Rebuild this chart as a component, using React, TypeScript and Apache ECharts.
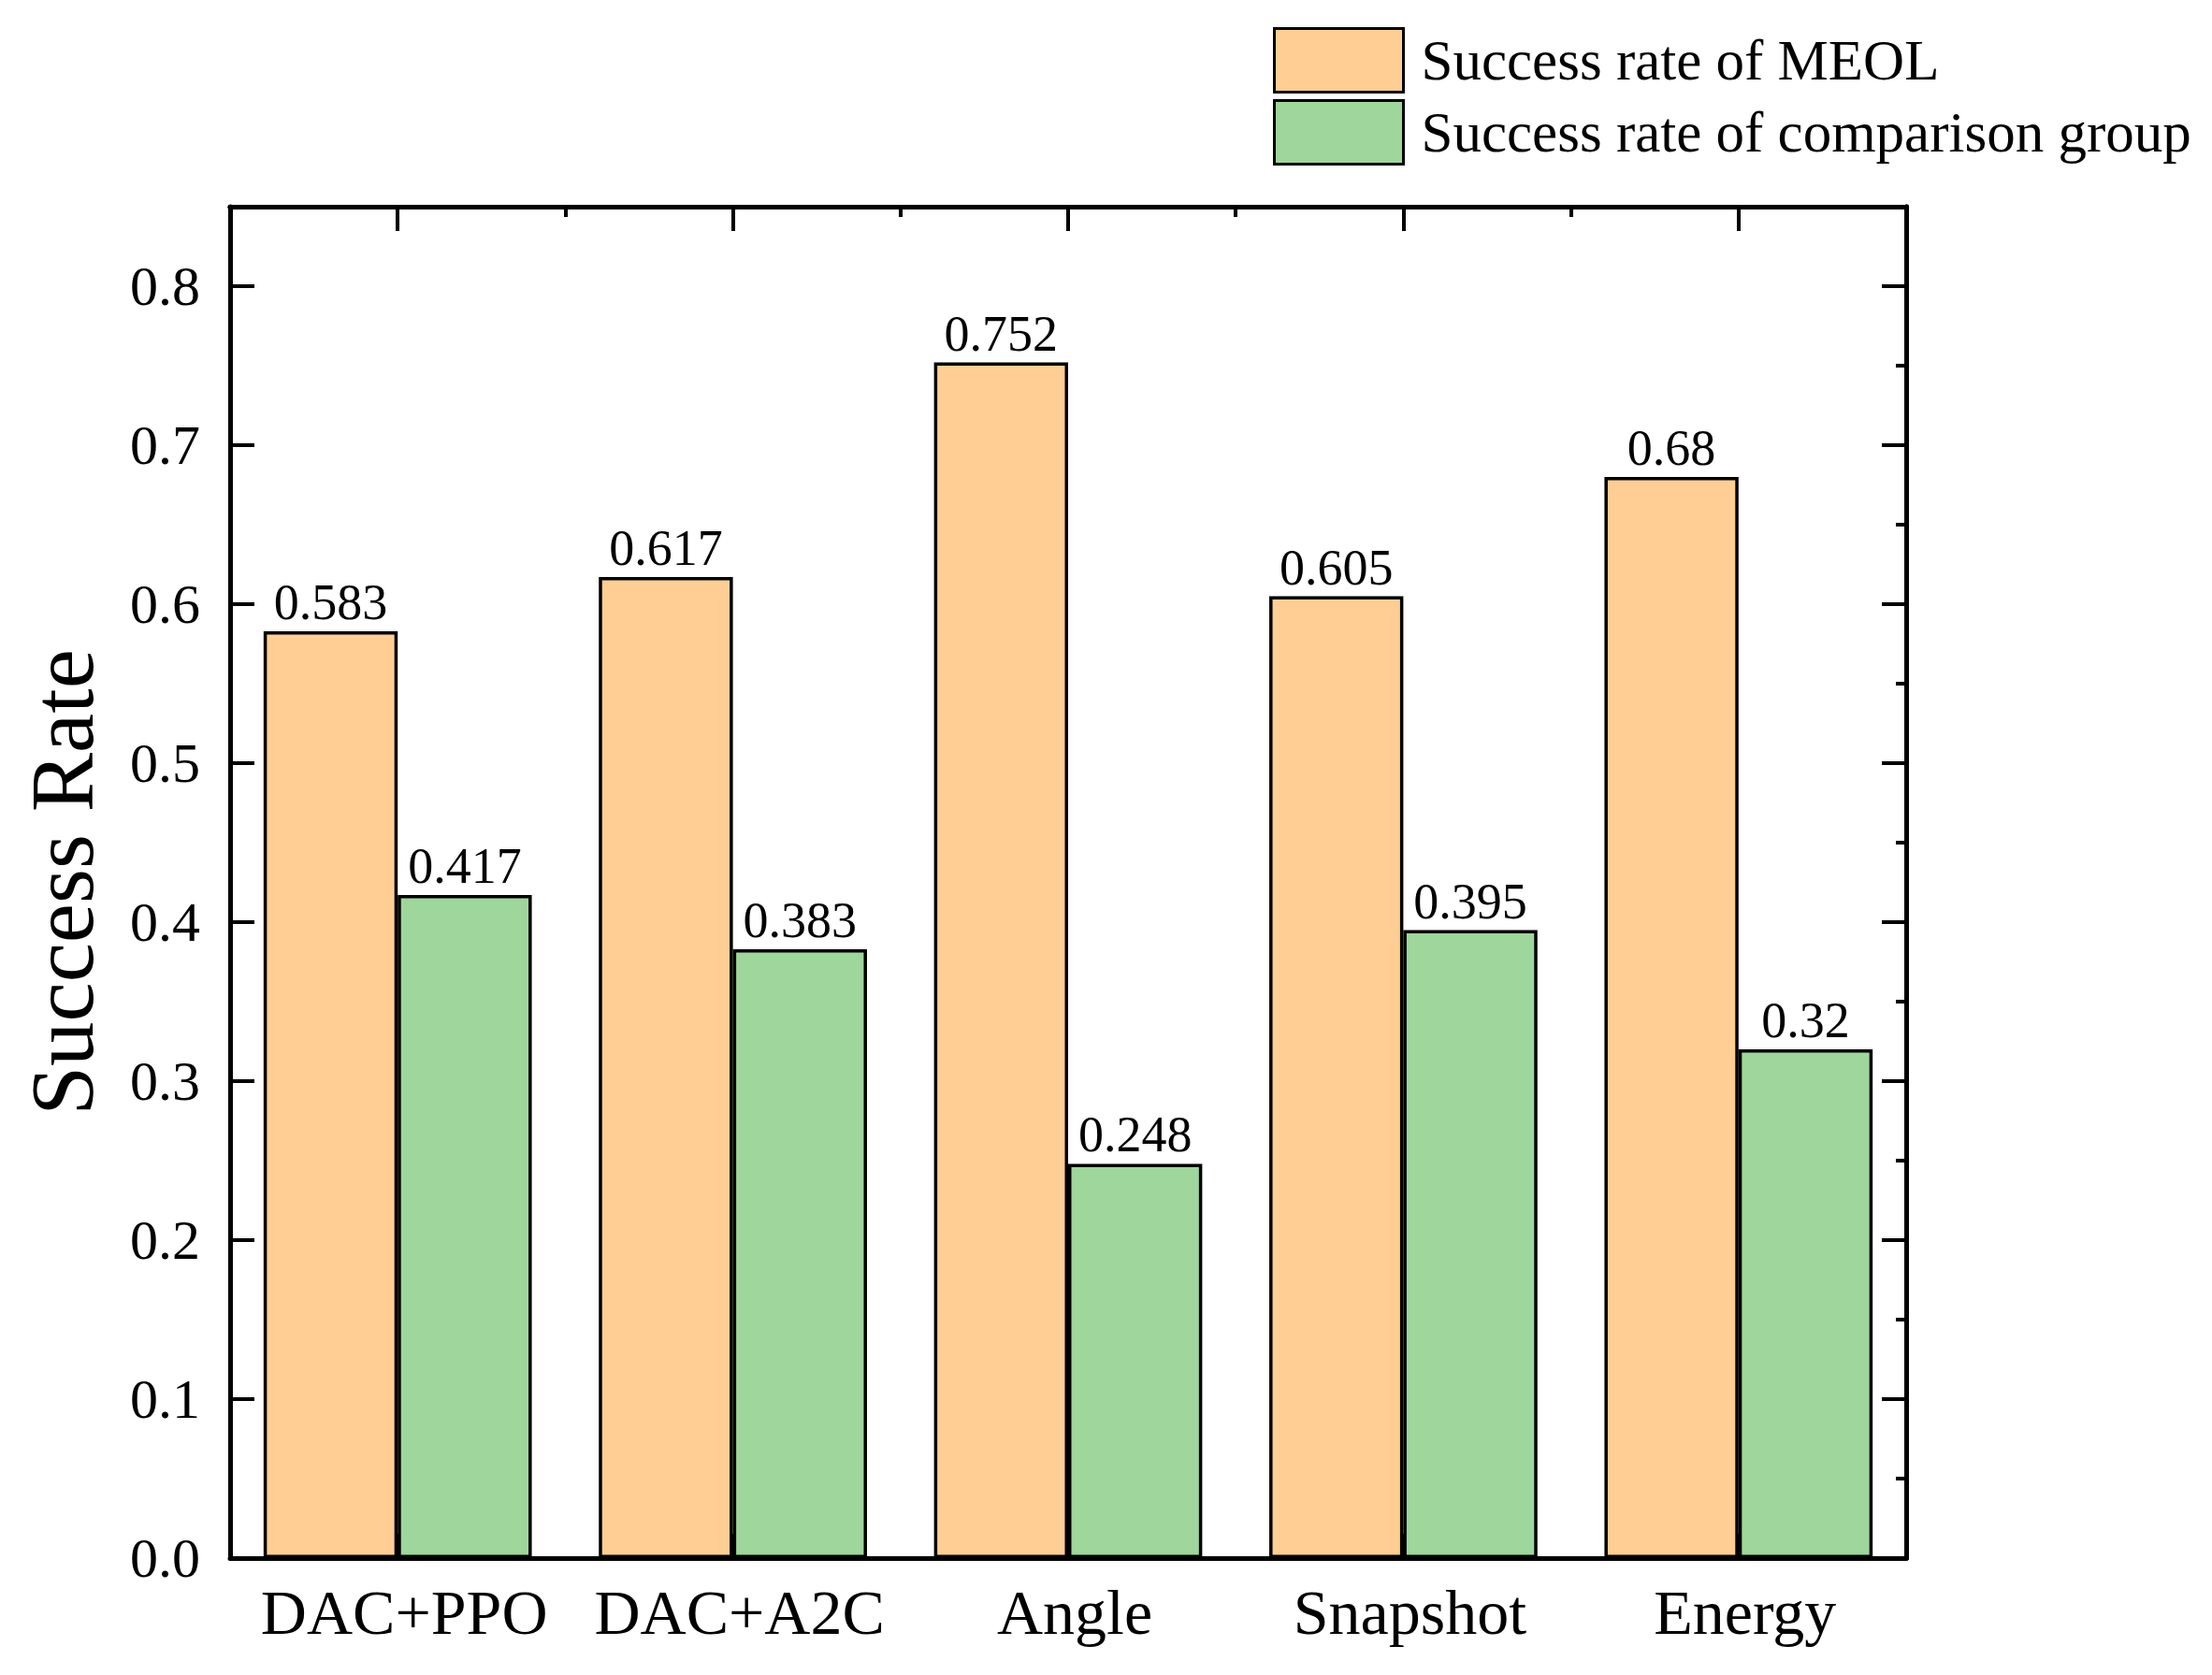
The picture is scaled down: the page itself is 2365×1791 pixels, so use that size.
import React, { useEffect, useRef } from "react";
import * as echarts from "echarts";

const categories = ["DAC+PPO", "DAC+A2C", "Angle", "Snapshot", "Energy"];
const meolValues = [0.583, 0.617, 0.752, 0.605, 0.68];
const comparisonValues = [0.417, 0.383, 0.248, 0.395, 0.32];
const seriesNames = ["Success rate of MEOL", "Success rate of comparison group"];
const yTitle = "Success Rate";

const FONT = "Liberation Serif";
const BLACK = "#000000";

export default function App() {
  const ref = useRef<HTMLDivElement>(null);
  useEffect(() => {
    document.body.style.margin = "0";
    const chart = echarts.init(ref.current!, null, { renderer: "svg" });
    const line = { show: true, onZero: false, lineStyle: { color: BLACK, width: 5 } };
    const hidden = { show: false };
    chart.setOption({
      animation: false,
      backgroundColor: "#ffffff",
      textStyle: { fontFamily: FONT, color: BLACK },
      legend: {
        orient: "vertical",
        left: 1356,
        top: 24,
        itemWidth: 138,
        itemHeight: 68,
        itemGap: 6,
        icon: "rect",
        itemStyle: { borderColor: BLACK, borderWidth: 3 },
        textStyle: { fontFamily: FONT, fontSize: 61, color: BLACK, padding: [0, 0, 0, 14] },
        data: seriesNames,
      },
      grid: { left: 246, top: 221, right: 327, bottom: 125, containLabel: false },
      xAxis: [
        {
          type: "category",
          data: categories,
          position: "bottom",
          axisLine: line,
          axisTick: { show: true, inside: true, alignWithLabel: true, length: 26, lineStyle: { color: BLACK, width: 4 } },
          axisLabel: { fontFamily: FONT, fontSize: 68, color: BLACK, margin: 24, interval: 0, padding: [0, 0, 0, 14] },
          splitLine: hidden,
        },
        {
          type: "category",
          data: categories,
          position: "top",
          axisLine: line,
          axisTick: { show: true, inside: true, alignWithLabel: true, length: 26, lineStyle: { color: BLACK, width: 4 } },
          axisLabel: hidden,
          splitLine: hidden,
        },
        {
          type: "category",
          data: categories,
          position: "top",
          axisLine: line,
          axisTick: { show: true, inside: true, alignWithLabel: false, interval: 0, length: 11, lineStyle: { color: BLACK, width: 4 } },
          axisLabel: hidden,
          splitLine: hidden,
        },
      ],
      yAxis: [
        {
          type: "value",
          min: 0,
          max: 0.85,
          interval: 0.1,
          position: "left",
          name: yTitle,
          nameLocation: "middle",
          nameRotate: 90,
          nameGap: 132,
          nameTextStyle: { fontFamily: FONT, fontSize: 95, color: BLACK },
          axisLine: line,
          axisTick: { show: true, inside: true, length: 26, lineStyle: { color: BLACK, width: 4 } },
          axisLabel: {
            fontFamily: FONT,
            fontSize: 60,
            color: BLACK,
            margin: 32,
            formatter: (v: number) => {
              const r = Math.round(v * 10) / 10;
              return Math.abs(r - v) < 1e-6 ? r.toFixed(1) : "";
            },
          },
          splitLine: hidden,
        },
        {
          type: "value",
          min: 0,
          max: 0.85,
          interval: 0.1,
          position: "right",
          axisLine: line,
          axisTick: { show: true, inside: true, length: 26, lineStyle: { color: BLACK, width: 4 } },
          axisLabel: hidden,
          splitLine: hidden,
        },
        {
          type: "value",
          min: 0,
          max: 0.85,
          interval: 0.05,
          position: "right",
          axisLine: line,
          axisTick: { show: true, inside: true, length: 11, lineStyle: { color: BLACK, width: 4 } },
          axisLabel: hidden,
          splitLine: hidden,
        },
      ],
      series: [
        {
          name: seriesNames[0],
          type: "bar",
          data: meolValues,
          barWidth: "40%",
          barGap: "0%",
          itemStyle: { color: "#FECE94", borderColor: BLACK, borderWidth: 3.5 },
          label: { show: true, position: "top", distance: 4, fontFamily: FONT, fontSize: 54, color: BLACK },
        },
        {
          name: seriesNames[1],
          type: "bar",
          data: comparisonValues,
          barWidth: "40%",
          barGap: "0%",
          itemStyle: { color: "#9ED69C", borderColor: BLACK, borderWidth: 3.5 },
          label: { show: true, position: "top", distance: 4, fontFamily: FONT, fontSize: 54, color: BLACK },
        },
      ],
    });
    return () => chart.dispose();
  }, []);
  return <div ref={ref} style={{ width: 2365, height: 1791 }} />;
}
